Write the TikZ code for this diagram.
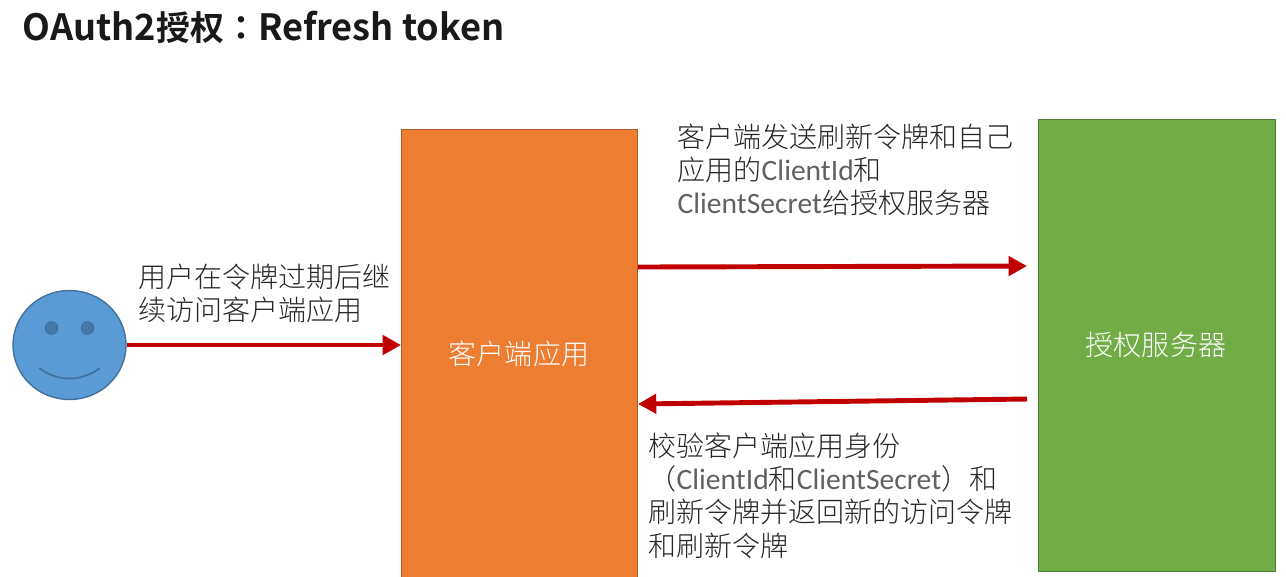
\documentclass[tikz,border=0pt]{standalone}
\usepackage{fontspec}
\setmainfont{Noto Sans CJK SC Light}[BoldFont={Noto Sans CJK SC Bold}]
\newfontfamily\cjkbold{Noto Sans CJK SC Bold}
\newfontfamily\colonfont{Noto Sans CJK TC Bold}
\newfontfamily\latinfont{Carlito}[Scale=1.055]
\newfontfamily\titlefont{Noto Sans CJK SC Bold}[Scale=1.065]
\usetikzlibrary{arrows.meta,shapes.geometric}
\definecolor{orangefill}{HTML}{ED7D31}
\definecolor{orangeline}{HTML}{AE5A21}
\definecolor{bluefill}{HTML}{5B9BD5}
\definecolor{blueline}{HTML}{41719C}
\definecolor{greenfill}{HTML}{70AD47}
\definecolor{greenline}{HTML}{507E32}
\definecolor{arrowred}{HTML}{C00000}
\newcommand{\lat}[1]{{\color{black!62}\latinfont #1}}
\tikzset{
  caption/.style={anchor=north west,inner sep=0pt,align=left,text=black!85,font=\fontsize{7.97}{9.47}\selectfont},
  boxlabel/.style={text=white,inner sep=0pt,font=\fontsize{7.97}{9.4}\selectfont},
  flow/.style={draw=arrowred,line width=1.4pt,-{Triangle[length=5.2pt,width=5.4pt]}}
}
\begin{document}
\begin{tikzpicture}
  \useasboundingbox (0,0) rectangle (12.86,-5.76);
  \clip (0,0) rectangle (12.86,-5.76);
  \node (title) [anchor=west,inner sep=0pt,text=black!90,font=\fontsize{9.67}{11}\selectfont] at (0.22,-0.27) {{\titlefont OAuth2}{\cjkbold 授权}{\colonfont ：}{\titlefont Refresh token}};
  \node (client) [draw=orangeline,fill=orangefill,line width=0.3pt,minimum width=2.36cm,minimum height=4.8cm,inner sep=0pt,anchor=north west] at (4.01,-1.29) {};
  \node (server) [draw=greenline,fill=greenfill,line width=0.3pt,minimum width=2.37cm,minimum height=4.52cm,inner sep=0pt,anchor=north west] at (10.38,-1.19) {};
  \node (clientlabel) [boxlabel] at (5.19,-3.54) {客户端应用};
  \node (serverlabel) [boxlabel] at (11.56,-3.45) {授权服务器};
  \node (user) [draw=blueline,fill=bluefill,line width=0.4pt,ellipse,minimum width=1.13cm,minimum height=1.09cm,inner sep=0pt] at (0.695,-3.45) {};
  \node (lefteye) [draw=blueline,fill=blueline!80!bluefill,line width=0.3pt,circle,minimum size=0.125cm,inner sep=0pt] at (0.515,-3.28) {};
  \node (righteye) [draw=blueline,fill=blueline!80!bluefill,line width=0.3pt,circle,minimum size=0.125cm,inner sep=0pt] at (0.875,-3.28) {};
  \coordinate (smileleft) at (0.39,-3.68);
  \coordinate (smileright) at (1.0,-3.68);
  \draw [blueline,line width=0.5pt] (smileleft) .. controls (0.58,-3.82) and (0.81,-3.82) .. (smileright);
  \node (usertext) [caption] at (1.38,-2.63) {用户在令牌过期后继\\续访问客户端应用};
  \node (sendtext) [caption] at (6.77,-1.23) {客户端发送刷新令牌和自己\\应用的\lat{ClientId}和\\\lat{ClientSecret}给授权服务器};
  \node (backtext) [caption] at (6.48,-4.32) {校验客户端应用身份\\（\lat{ClientId}和\lat{ClientSecret}）和\\刷新令牌并返回新的访问令牌\\和刷新令牌};
  \coordinate (sendstart) at (client.east |- 0,-2.67);
  \coordinate (sendend) at (10.27,-2.66);
  \coordinate (backstart) at (10.27,-3.99);
  \coordinate (backend) at (6.38,-4.04);
  \coordinate (userend) at (client.west |- user.east);
  \draw [flow] (user.east) -- (userend);
  \draw [flow] (sendstart) -- (sendend);
  \draw [flow] (backstart) -- (backend);
\end{tikzpicture}
\end{document}
